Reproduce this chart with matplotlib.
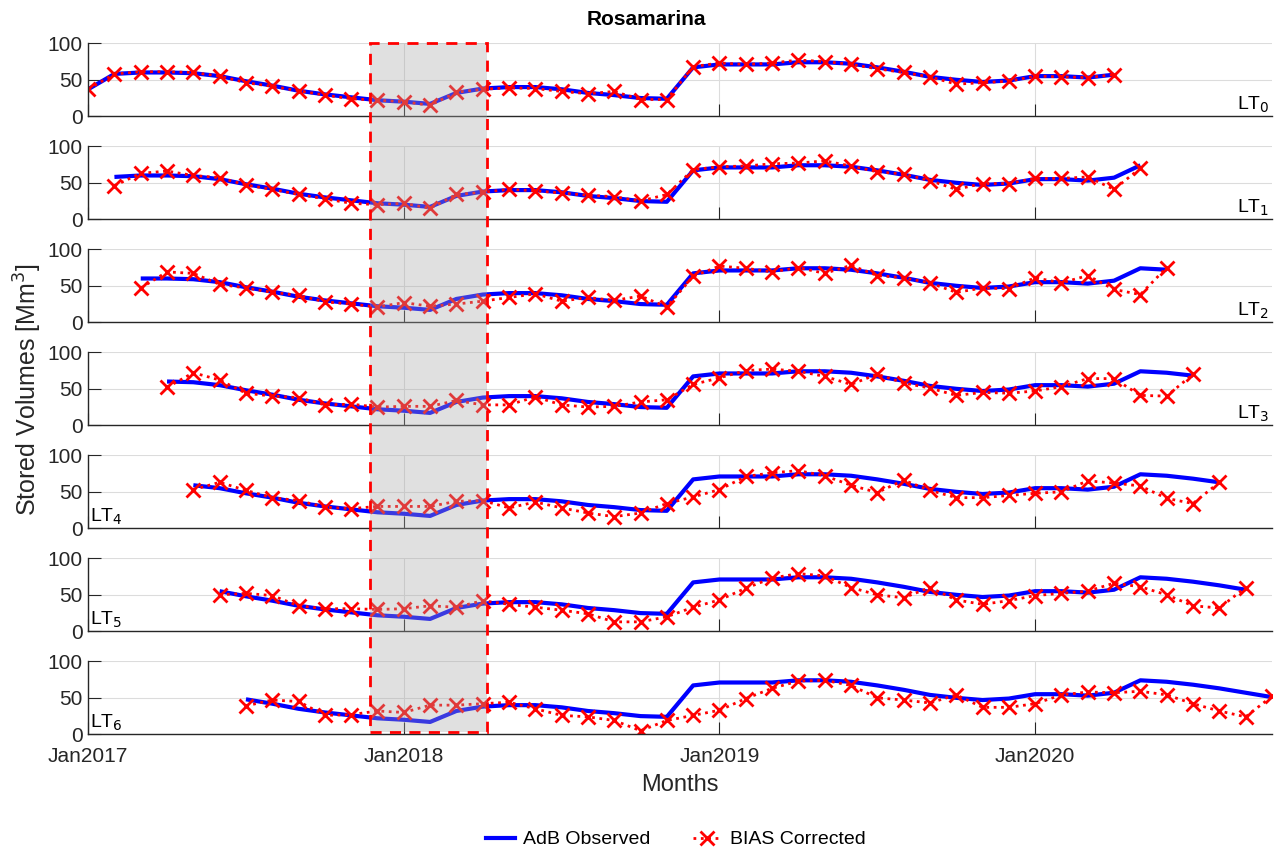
import numpy as np
import matplotlib
matplotlib.use("Agg")
import matplotlib.pyplot as plt
from matplotlib.patches import Rectangle

plt.rcParams['font.family'] = ['Liberation Sans', 'DejaVu Sans']

# month index 0 = Jan 2017
observed = [37, 58, 60, 60, 59, 55, 48, 42, 35, 30, 26, 22, 20, 17, 32, 38,
            40, 40, 37, 32, 29, 25, 24, 67, 71, 71, 71, 74, 74, 72, 67, 61,
            54, 50, 47, 49, 55, 55, 53, 57, 74, 72, 68, 63, 57, 51]

bias_lt0 = [37, 58, 61, 61, 60, 55, 46, 41, 35, 29, 24, 22, 20, 15, 33, 37,
            39, 38, 34, 31, 34, 23, 23, 68, 73, 71, 73, 77, 75, 71, 65, 60,
            54, 44, 46, 48, 55, 54, 53, 57]
bias_lt1 = [46, 63, 66, 60, 57, 47, 41, 34, 28, 22, 20, 22, 15, 34, 37,
            41, 39, 36, 33, 31, 25, 34, 68, 72, 73, 76, 77, 80, 73, 65, 62,
            53, 41, 49, 49, 56, 56, 58, 41, 70]
bias_lt2 = [47, 69, 67, 52, 47, 41, 37, 28, 25, 21, 27, 22, 25, 29,
            34, 39, 29, 34, 30, 36, 21, 63, 77, 74, 69, 75, 67, 78, 64, 61,
            54, 41, 47, 46, 61, 54, 64, 45, 38, 75]
bias_lt3 = [52, 72, 62, 44, 40, 38, 28, 29, 25, 26, 26, 34, 28,
            28, 39, 28, 25, 26, 32, 35, 56, 65, 75, 77, 74, 67, 56, 70, 58,
            51, 41, 45, 44, 47, 53, 64, 64, 41, 40, 70]
bias_lt4 = [53, 63, 52, 42, 38, 29, 27, 30, 30, 30, 37, 38,
            28, 36, 28, 21, 16, 21, 34, 43, 53, 71, 76, 79, 72, 59, 49, 66,
            52, 42, 42, 45, 48, 50, 65, 62, 58, 41, 34, 63]
bias_lt5 = [50, 52, 49, 35, 31, 31, 30, 31, 35, 33, 42,
            37, 33, 29, 24, 13, 13, 20, 33, 43, 59, 73, 79, 76, 60, 50, 46,
            60, 43, 37, 42, 49, 52, 55, 66, 61, 50, 35, 32, 60]
bias_lt6 = [39, 47, 45, 26, 27, 32, 30, 40, 40, 42,
            44, 35, 26, 24, 19, 5, 19, 26, 33, 49, 63, 73, 74, 67, 50, 47,
            43, 54, 37, 37, 42, 54, 58, 57, 59, 54, 42, 32, 24, 52]

bias_series = [bias_lt0, bias_lt1, bias_lt2, bias_lt3, bias_lt4, bias_lt5, bias_lt6]
tick_months = [0, 12, 24, 36]
tick_labels = ['Jan2017', 'Jan2018', 'Jan2019', 'Jan2020']
highlight = (10.7, 15.15)

txt_col = '#262626'
fig, axes = plt.subplots(7, 1, figsize=(12.77, 8.48), dpi=100, sharex=True)
fig.subplots_adjust(left=0.069, right=0.996, top=0.949, bottom=0.134, hspace=0.41)

obs = np.array(observed, dtype=float)
for lt, ax in enumerate(axes):
    bias = np.array(bias_series[lt], dtype=float)
    months = np.arange(lt, lt + len(bias))
    ax.plot(months, obs[lt:lt + len(bias)], color='#0000ff', lw=3, solid_capstyle='butt')
    ax.plot(months, bias, color='red', ls=':', lw=2, marker='x', ms=10, mew=2)
    ax.set_xlim(0, 45)
    ax.set_ylim(0, 100)
    ax.set_yticks([0, 50, 100])
    ax.set_xticks(tick_months)
    ax.grid(True, color='#dcdcdc', lw=0.8)
    ax.set_axisbelow(True)
    for s in ['top', 'right']:
        ax.spines[s].set_visible(False)
    for s in ['left', 'bottom']:
        ax.spines[s].set_color(txt_col)
        ax.spines[s].set_linewidth(1.0)
    ax.tick_params(direction='in', length=9, labelsize=15, colors=txt_col, pad=4)
    ax.tick_params(axis='x', labelbottom=(lt == 6), pad=9)
    if lt < 4:
        ax.text(0.998, 0.02, f'LT$_{lt}$', transform=ax.transAxes, ha='right', va='bottom',
                fontsize=14, color='black')
    else:
        ax.text(0.002, 0.02, f'LT$_{lt}$', transform=ax.transAxes, ha='left', va='bottom',
                fontsize=14, color='black')

axes[-1].set_xticklabels(tick_labels)
axes[-1].set_xlabel('Months', fontsize=17, color=txt_col, labelpad=6)
fig.suptitle('Rosamarina', x=0.506, y=0.988, fontsize=15, fontweight='bold')
fig.text(0.022, 0.54, 'Stored Volumes [Mm$^3$]', rotation=90, ha='center', va='center',
         fontsize=18, color=txt_col)

# highlighted period spanning all panels
inv = fig.transFigure.inverted()
x0, y_top = inv.transform(axes[0].transData.transform((highlight[0], 100)))
x1, _ = inv.transform(axes[0].transData.transform((highlight[1], 100)))
_, y_bot = inv.transform(axes[-1].transData.transform((highlight[0], 3)))
rect = Rectangle((x0, y_bot), x1 - x0, y_top - y_bot, transform=fig.transFigure,
                 facecolor='#a8a8a8', alpha=0.35, edgecolor='none', zorder=5)
fig.add_artist(rect)
edge = Rectangle((x0, y_bot), x1 - x0, y_top - y_bot, transform=fig.transFigure,
                 facecolor='none', edgecolor='red', ls=(0, (4, 3)), lw=2, zorder=6)
fig.add_artist(edge)

h_obs, = axes[0].plot([], [], color='#0000ff', lw=3)
h_bias, = axes[0].plot([], [], color='red', ls=':', lw=2, marker='x', ms=10, mew=2)
fig.legend([h_obs, h_bias], ['AdB Observed', 'BIAS Corrected'], loc='lower center',
           ncol=2, frameon=False, fontsize=14, bbox_to_anchor=(0.529, -0.021),
           handlelength=1.5, handletextpad=0.4, columnspacing=2.2)

fig.savefig('out.png', dpi=100)
